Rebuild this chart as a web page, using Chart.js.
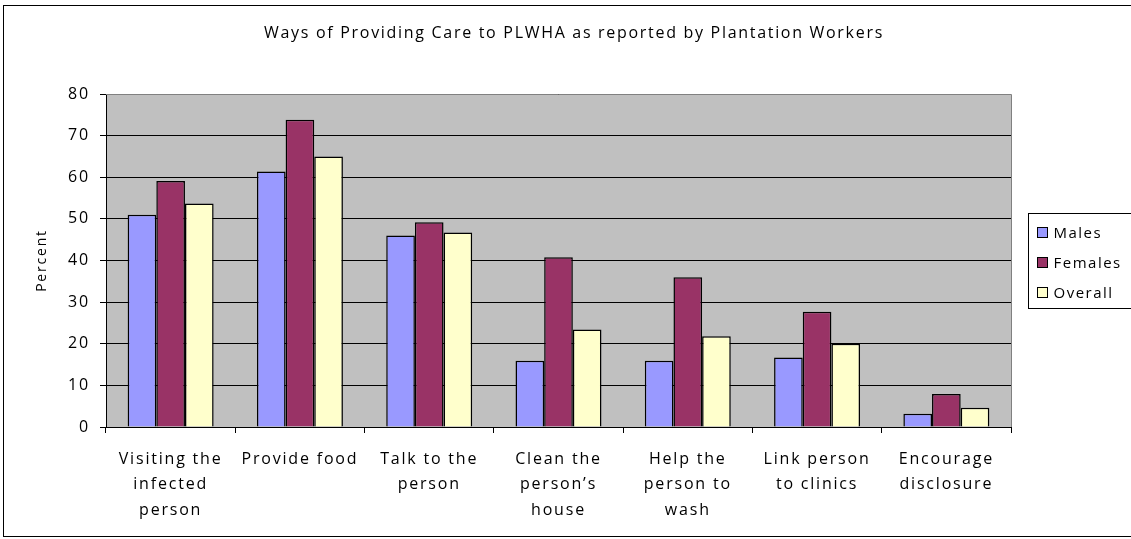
<!DOCTYPE html>
<html>
<head>
<meta charset="utf-8">
<script src="https://cdn.jsdelivr.net/npm/chart.js@4/dist/chart.umd.min.js"></script>
<style>
  html, body { margin: 0; padding: 0; background: #fff; }
  #wrap { width: 1131px; height: 539px; position: relative; }
</style>
</head>
<body>
<div id="wrap"><canvas id="chart"></canvas></div>
<script>
const title = 'Ways of Providing Care to PLWHA as reported by Plantation Workers';
const categories = [
  ['Visiting the', 'infected', 'person'],
  ['Provide food'],
  ['Talk to the', 'person'],
  ['Clean the', 'person\u2019s', 'house'],
  ['Help the', 'person to', 'wash'],
  ['Link person', 'to clinics'],
  ['Encourage', 'disclosure']
];
const males   = [51.0, 61.4, 46.0, 15.9, 15.9, 16.7, 3.2];
const females = [59.1, 73.8, 49.2, 40.8, 36.0, 27.7, 7.9];
const overall = [53.7, 65.0, 46.7, 23.4, 21.8, 20.0, 4.6];
const yTicks = [0, 10, 20, 30, 40, 50, 60, 70, 80];

const FONT = '"Open Sans", Lato, sans-serif';
const SPACING = '1.8px';

// the reference text is widely tracked, keep the same on the canvas
function spaced(chart) { chart.ctx.letterSpacing = SPACING; }

// background, outer border, title and the boxed legend
const decor = {
  id: 'decor',
  beforeLayout: spaced,
  beforeDraw(chart) {
    spaced(chart);
    const ctx = chart.ctx;
    const a = chart.chartArea;
    ctx.save();
    ctx.fillStyle = '#ffffff';
    ctx.fillRect(0, 0, chart.width, chart.height);
    ctx.strokeStyle = '#000';
    ctx.lineWidth = 1;
    ctx.strokeRect(3.5, 5.5, 1140, 531);
    ctx.fillStyle = '#c0c0c0';
    ctx.fillRect(a.left, a.top, a.right - a.left, a.bottom - a.top);
    ctx.restore();
  },
  afterDraw(chart) {
    const ctx = chart.ctx;
    const a = chart.chartArea;
    ctx.save();
    // plot frame top/right
    ctx.strokeStyle = '#808080';
    ctx.lineWidth = 1;
    ctx.beginPath();
    ctx.moveTo(a.left, a.top + 0.5);
    ctx.lineTo(a.right + 0.5, a.top + 0.5);
    ctx.lineTo(a.right + 0.5, a.bottom);
    ctx.stroke();

    ctx.fillStyle = '#000';
    ctx.font = '16px ' + FONT;
    ctx.letterSpacing = '1.7px';
    ctx.textAlign = 'center';
    ctx.textBaseline = 'middle';
    ctx.fillText(title, 574, 33);

    // legend
    const lx = 1028.5, ly = 213.5;
    ctx.letterSpacing = '1.5px';
    ctx.font = '15px ' + FONT;
    ctx.strokeStyle = '#000';
    ctx.strokeRect(lx, ly, 120, 95);
    ctx.textAlign = 'left';
    chart.data.datasets.forEach((ds, i) => {
      const cy = ly + 19 + i * 30;
      ctx.fillStyle = ds.backgroundColor;
      ctx.fillRect(lx + 9, cy - 5, 10, 10);
      ctx.strokeRect(lx + 9, cy - 5, 10, 10);
      ctx.fillStyle = '#000';
      ctx.fillText(ds.label, lx + 25, cy + 1);
    });
    ctx.restore();
  }
};

new Chart(document.getElementById('chart'), {
  type: 'bar',
  data: {
    labels: categories,
    datasets: [
      { label: 'Males', data: males, backgroundColor: '#9999ff' },
      { label: 'Females', data: females, backgroundColor: '#993366' },
      { label: 'Overall', data: overall, backgroundColor: '#ffffcc' }
    ].map(d => Object.assign(d, { borderColor: '#000', borderWidth: 1.5, borderSkipped: 'bottom' }))
  },
  options: {
    responsive: true,
    maintainAspectRatio: false,
    animation: false,
    devicePixelRatio: 1,
    layout: { padding: { top: 94, right: 120, left: 34, bottom: 0 } },
    datasets: { bar: { barPercentage: 1, categoryPercentage: 0.665 } },
    plugins: {
      legend: { display: false },
      tooltip: { enabled: false }
    },
    scales: {
      x: {
        afterFit(s) { s.height = 112; },
        grid: { offset: true, drawOnChartArea: false, color: '#000', tickLength: 6 },
        border: { color: '#000' },
        ticks: { color: '#000', font: { family: FONT, size: 16, lineHeight: 1.62 }, padding: 13, maxRotation: 0, autoSkip: false }
      },
      y: {
        min: 0, max: 80,
        afterFit(s) { s.width = 72; },
        afterBuildTicks(s) { s.ticks = yTicks.map(v => ({ value: v })); },
        grid: { color: '#000', tickLength: 6 },
        border: { color: '#000' },
        ticks: { color: '#000', font: { family: FONT, size: 16 }, padding: 10 },
        title: { display: true, text: 'Percent', color: '#000', font: { family: FONT, size: 14 }, padding: { top: 0, bottom: 0 } }
      }
    }
  },
  plugins: [decor]
});
</script>
</body>
</html>
